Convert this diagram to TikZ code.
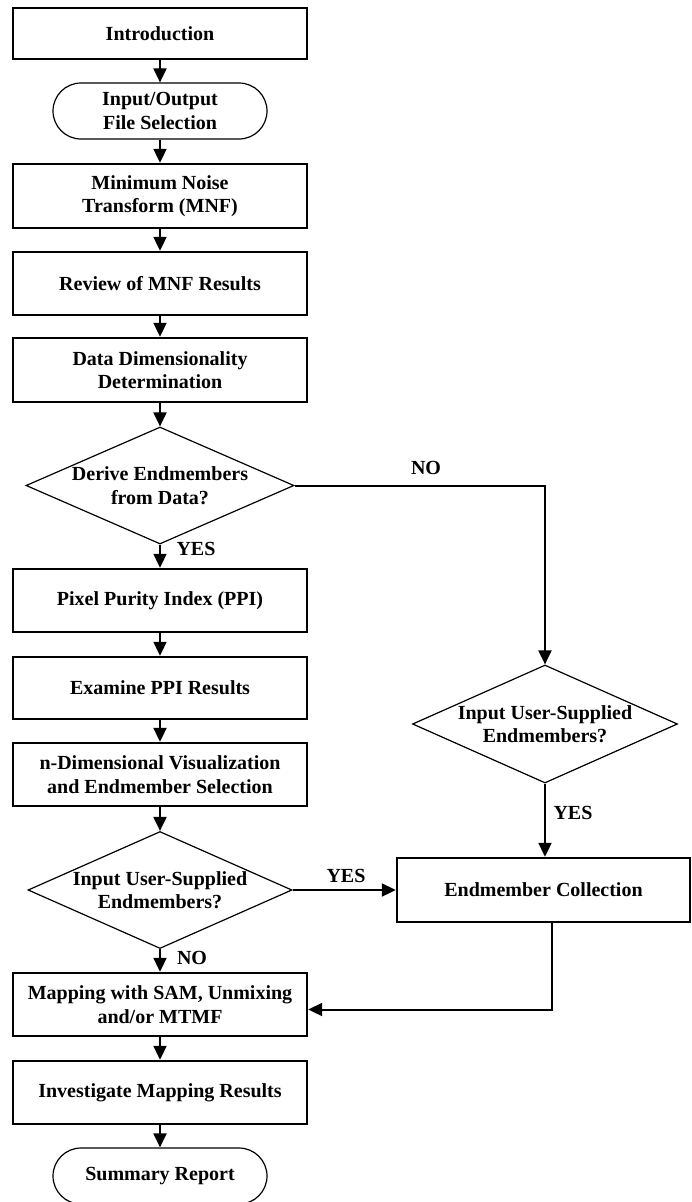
\documentclass[tikz,border=0pt]{standalone}
\usepackage{fontspec}
\setmainfont{Liberation Serif}
\usetikzlibrary{shapes.geometric,arrows.meta}

\begin{document}
\begin{tikzpicture}[x=1pt,y=-1pt]
        \tikzset{every node/.style={font=\fontsize{20}{23.5}\selectfont\bfseries,align=center},
            box/.style={draw,line width=2.4pt,minimum width=294pt,minimum height=63pt,inner sep=0pt},
            term/.style={draw,line width=1.2pt,rounded corners=28pt,minimum width=214pt,minimum height=56pt},
            decision/.style={draw,diamond,line width=1.2pt,shape aspect=2.3,inner sep=-4pt,
                minimum width=268pt,minimum height=117pt},
            flow/.style={line width=2pt,-{Triangle[width=13pt,length=14pt]}}}
        \useasboundingbox (0,0) rectangle (691,1202);

        % main column
        \node[box,minimum height=51pt] (intro) at (160,33.5) {Introduction};
        \node[term] (io) at (160,111) {Input/Output\\File Selection};
        \node[box,minimum height=64pt] (mnf) at (160,196) {Minimum Noise\\Transform (MNF)};
        \node[box] (review) at (160,283.5) {Review of MNF Results};
        \node[box,minimum height=64pt] (dims) at (160,370) {Data Dimensionality\\Determination};
        \node[decision] (derive) at (160,485.5) {Derive Endmembers\\from Data?};
        \node[box] (ppi) at (160,600.5) {Pixel Purity Index (PPI)};
        \node[box,minimum height=62pt] (examine) at (160,688) {Examine PPI Results};
        \node[box] (ndvis) at (160,774.5) {n-Dimensional Visualization\\and Endmember Selection};
        \node[decision,minimum width=264pt] (userleft) at (160,890) {Input User-Supplied\\Endmembers?};
        \node[box] (mapping) at (160,1004.5) {Mapping with SAM, Unmixing\\and/or MTMF};
        \node[box] (investigate) at (160,1092.5) {Investigate Mapping Results};
        \node[term] (summary) at (160,1176) {Summary Report};

        % side branch
        \node[decision,minimum width=265pt,minimum height=118pt] (userright) at (545,724) {Input User-Supplied\\Endmembers?};
        \node[box,minimum width=293pt,minimum height=64pt] (collect) at (543.5,890) {Endmember Collection};

        % labels
        \node (yes1) at (196,549) {YES};
        \node (no1) at (426,468) {NO};
        \node (yes2) at (346,876) {YES};
        \node (yes3) at (573,813) {YES};
        \node (no2) at (192,958) {NO};

        \draw[flow] (intro) -- (io);
        \draw[flow] (io) -- (mnf);
        \draw[flow] (mnf) -- (review);
        \draw[flow] (review) -- (dims);
        \draw[flow] (dims) -- (derive);
        \draw[flow] (derive) -- (ppi);
        \draw[flow] (ppi) -- (examine);
        \draw[flow] (examine) -- (ndvis);
        \draw[flow] (ndvis) -- (userleft);
        \draw[flow] (userleft) -- (mapping);
        \draw[flow] (mapping) -- (investigate);
        \draw[flow] (investigate) -- (summary);
        \draw[flow] (derive.east) -| (userright.north);
        \draw[flow] (userright) -- (userright |- collect.north);
        \draw[flow] (userleft.east) -- (collect.west);
        \draw[flow] ([xshift=8.5pt]collect.south) |- ([yshift=-5pt]mapping.east);
    \end{tikzpicture}
\end{document}
